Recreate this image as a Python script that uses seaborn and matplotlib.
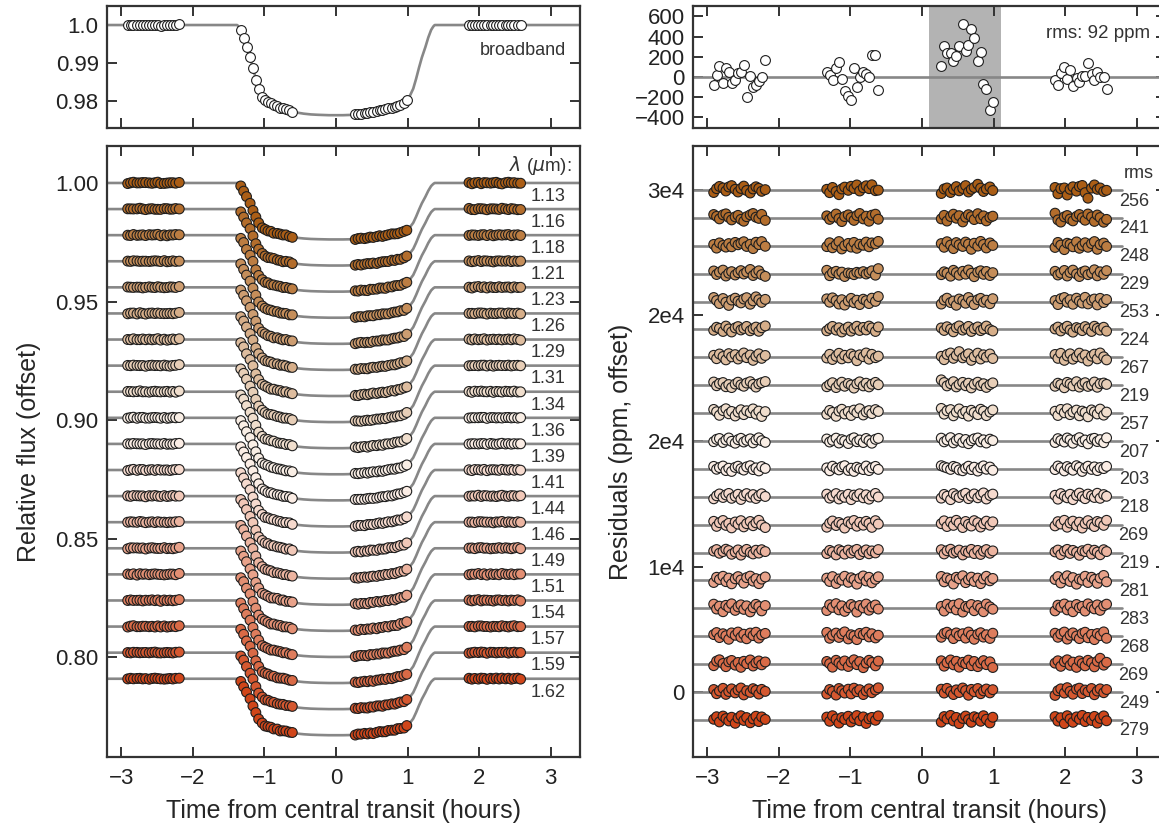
#!/usr/bin/env python3
# -*- coding: utf-8 -*-

"""
Spectroscopic transit light curves (left) and residuals (right).
"""

import matplotlib
matplotlib.use('Agg')
import matplotlib.pyplot as plt
import numpy as np
import pandas as pd
import seaborn as sns

# observation times, four HST orbits (hours from mid transit)
times = [-2.91, -2.87, -2.83, -2.78, -2.74, -2.70, -2.66, -2.61, -2.57,
         -2.53, -2.49, -2.45, -2.40, -2.36, -2.32, -2.28, -2.24, -2.19,
         -1.33, -1.29, -1.25, -1.20, -1.16, -1.12, -1.08, -1.03, -0.99,
         -0.95, -0.91, -0.87, -0.82, -0.78, -0.74, -0.70, -0.65, -0.61,
         0.27, 0.31, 0.35, 0.40, 0.44, 0.48, 0.52, 0.57, 0.61,
         0.65, 0.69, 0.73, 0.78, 0.82, 0.86, 0.90, 0.95, 0.99,
         1.86, 1.90, 1.94, 1.99, 2.03, 2.07, 2.11, 2.16, 2.20,
         2.24, 2.28, 2.32, 2.37, 2.41, 2.45, 2.49, 2.54, 2.58]

# broadband (white light) flux
bb_flux = [0.9999, 1.0000, 1.0001, 0.9999, 1.0001, 1.0000, 0.9999, 1.0000, 1.0000,
           1.0000, 1.0001, 0.9998, 1.0000, 0.9999, 0.9999, 1.0000, 1.0000, 1.0002,
           0.9987, 0.9967, 0.9941, 0.9915, 0.9887, 0.9856, 0.9830, 0.9811, 0.9802,
           0.9797, 0.9793, 0.9789, 0.9786, 0.9782, 0.9780, 0.9778, 0.9775, 0.9771,
           0.9764, 0.9765, 0.9766, 0.9767, 0.9768, 0.9770, 0.9771, 0.9773, 0.9775,
           0.9776, 0.9778, 0.9780, 0.9782, 0.9784, 0.9787, 0.9790, 0.9794, 0.9801,
           1.0000, 0.9999, 1.0000, 1.0001, 1.0000, 1.0001, 0.9999, 1.0000, 0.9999,
           1.0000, 1.0000, 1.0001, 1.0000, 1.0000, 1.0000, 1.0000, 1.0000, 0.9999]

# broadband residuals (ppm)
bb_resid = [-83, 23, 107, -60, 90, 50, -60, -33, 40, 47, 117, -203, 13, -100, -80, -37, 3, 173,
            47, 17, -30, 87, 150, -17, -143, -190, -230, 93, -97, 0, 47, 33, -3, 217, 217, -127,
            113, 303, 233, 237, 160, 203, 303, 520, 260, 317, 480, 390, 160, 250, -73, -120, -323, -247,
            -33, -83, 37, 103, -17, 70, -90, -13, -53, 10, 7, 137, 30, -33, 47, 0, -3, -120]

# transit model curve
model_t = [-3.40, -1.38, -1.36, -1.33, -1.29, -1.25, -1.20, -1.16, -1.12, -1.08,
           -1.03, -0.99, -0.95, -0.91, -0.85, -0.75, -0.65, -0.55, -0.45, -0.35,
           -0.25, -0.10, 0.00, 0.10, 0.25, 0.35, 0.45, 0.55, 0.65, 0.75,
           0.85, 0.91, 0.95, 0.99, 1.03, 1.08, 1.12, 1.16, 1.20, 1.25,
           1.29, 1.33, 1.36, 1.38, 3.50]
model_f = [1.0000, 1.0000, 0.9996, 0.9987, 0.9967, 0.9942, 0.9914, 0.9887, 0.9858, 0.9832,
           0.9812, 0.9803, 0.9798, 0.9794, 0.9789, 0.9782, 0.9774, 0.9769, 0.9766, 0.9764,
           0.9763, 0.9762, 0.9762, 0.9762, 0.9763, 0.9764, 0.9766, 0.9769, 0.9774, 0.9782,
           0.9789, 0.9794, 0.9798, 0.9803, 0.9812, 0.9832, 0.9858, 0.9887, 0.9914, 0.9942,
           0.9967, 0.9987, 0.9996, 1.0000, 1.0000]

wavelengths = ['1.13', '1.16', '1.18', '1.21', '1.23', '1.26', '1.29', '1.31', '1.34', '1.36',
               '1.39', '1.41', '1.44', '1.46', '1.49', '1.51', '1.54', '1.57', '1.59', '1.62']
rms_ppm = [256, 241, 248, 229, 253, 224, 267, 219, 257, 207,
           203, 218, 269, 219, 281, 283, 268, 269, 249, 279]

# spectroscopic residuals (ppm), one row per channel
ch_resid = [
    [-150, 80, 210, 120, -60, 180, 260, 40, -120, 90, 230, -30, -180, 60, 190, 100, -80, 20,
     40, -160, 150, -90, -280, 60, 170, -20, 220, 90, 300, -60, 130, 250, 80, 310, -40, -10,
     -210, 60, 120, -150, 30, 200, -50, 90, 260, -120, 40, 150, 340, 110, -90, 60, 180, -30,
     150, -230, 80, 120, -300, 40, 190, -70, 210, 270, -160, -490, 110, 300, 40, 120, -90, -20],
    [200, 90, -60, 180, 240, 30, -120, 60, 150, -90, -200, 70, 180, 260, 40, -30, 210, -150,
     120, -90, 50, 230, -40, -220, 80, 180, 20, -150, 140, 260, -60, 100, -200, 160, 220, -80,
     -60, 150, -190, 80, 220, -20, 130, -240, 40, 190, 70, -100, 250, -50, 120, -180, 30, 100,
     280, -120, -250, 60, 140, -70, -180, 90, 200, 10, -140, 230, 60, -210, 170, 20, -260, -90],
    [80, -140, 170, 20, -80, 130, -60, 200, 60, 150, 240, -40, 90, -170, 210, 70, 250, -30,
     -50, 180, -120, 60, 250, -190, 10, 140, -80, 200, -150, 90, 30, 220, -60, 170, 110, 260,
     130, -90, 240, 40, -170, 190, 60, -40, 220, 100, -210, 150, -20, 260, 80, -130, 170, 20,
     -100, 200, 40, -230, 150, 90, -60, 230, -150, 20, 180, -90, 130, 250, -210, 70, 160, -40],
    [160, -50, 90, 210, -140, 30, 120, -80, 60, 180, -20, 100, 250, -110, 40, 170, -60, -160,
     200, -120, 60, 140, -30, 90, -170, 40, 10, -60, 80, 30, 120, -20, 70, 170, -90, 300,
     -60, 110, 30, -150, 200, 60, -90, 140, -30, 220, 20, -180, 90, 170, -40, 130, -110, 60,
     140, -80, 30, 190, -140, 70, 210, -20, -170, 90, 160, -60, 40, 230, -130, 110, -40, 180],
    [240, 60, -120, 180, -40, -230, 90, 200, 20, -80, 150, 230, -160, 40, 280, 110, -50, 130,
     160, -40, 220, 60, -150, 110, -210, 30, 190, -70, 80, -180, 140, 50, -120, 200, 10, 300,
     -150, 90, 200, -60, 30, -220, 150, 60, -100, 240, 20, -180, 110, 190, -40, 80, -130, 170,
     60, -180, 170, 240, -40, 110, -160, 200, 30, -90, 250, -140, 80, 150, -200, 190, -60, 120],
    [-50, 130, 60, -120, 200, 30, -150, 90, 170, -30, 60, 180, -80, 40, 140, -110, 100, 210,
     -80, 60, 180, -40, 100, -150, 20, 140, -100, 60, 190, -60, 120, -30, 200, 90, -120, 150,
     90, -60, 160, 20, -140, 110, 210, -40, 60, 180, -120, 50, 150, -70, 30, 200, -10, -90,
     30, 140, -90, 80, 190, -30, -160, 110, 50, -70, 170, 30, -120, 190, 60, -40, 130, -100],
    [120, -80, 200, 50, -150, 220, 30, 160, -100, 80, 260, -20, 140, -180, 60, 210, -60, 110,
     -40, 180, -130, 60, 240, -90, 120, -30, 200, 80, -200, 150, 40, 260, -110, 180, -20, 70,
     60, -140, 170, 260, -60, 120, 340, -30, 90, 210, -180, 40, 250, -100, 150, 20, 200, -70,
     170, -60, 240, -180, 80, 210, -110, 40, 250, -30, 140, -220, 70, 190, -90, 260, 30, -150],
    [190, -30, 100, 160, -90, 40, -140, 70, 180, 20, -60, 130, 210, 50, -110, 80, 150, 220,
     -90, 40, 150, -140, 60, 180, -60, 100, 10, -170, 90, 200, -40, 120, -100, 60, 170, 30,
     320, 160, -40, 90, 210, -100, 50, 170, -30, 120, -160, 60, 180, -20, 90, -130, 40, 140,
     -60, 120, 40, -150, 170, 80, -40, 210, -110, 60, 150, -70, 20, 190, -120, 90, 130, 50],
    [220, 80, -130, 150, 260, -40, 100, -170, 60, 200, -90, 140, 30, 250, -60, 120, -200, 90,
     -70, 160, 40, -190, 120, 230, -50, 90, -140, 180, 30, 260, -110, 70, 150, -30, 210, 100,
     280, -60, 140, 210, -160, 60, 250, -30, 100, -180, 170, 40, -90, 230, 120, -150, 60, 190,
     110, -140, 220, 20, 260, -90, 60, 180, -160, 120, 40, -220, 190, 80, -50, 240, -120, 60],
    [-40, 100, 150, -90, 60, 180, -20, -130, 80, 160, -60, 40, 130, -110, 70, 190, 20, -80,
     120, -60, 40, 170, -120, 80, 10, -150, 110, 190, -40, 60, -90, 150, 30, -130, 100, 160,
     170, -50, 60, 200, -110, 40, 150, -80, 90, -160, 20, 130, 180, -50, 70, -120, 110, 30,
     -90, 140, 30, -60, 180, 70, -130, 100, 200, -40, 60, -170, 120, 160, -30, 80, -100, 190],
    [150, -20, 80, 170, -100, 40, -150, 90, 160, 10, -70, 120, 190, -40, 60, -120, 140, 30,
     60, -110, 160, 30, -60, 130, 190, -90, 40, -150, 100, 20, -40, 170, -100, 60, 150, -30,
     190, 120, 60, -30, 150, 90, -60, -110, 40, 160, -40, 100, -130, 70, 180, -20, 110, -80,
     -40, 170, 60, -120, 140, 30, -80, 190, 90, -150, 50, 160, -30, 120, -100, 80, 20, 150],
    [-120, 60, 170, -40, 110, 200, -90, 30, 150, -160, 80, 190, -20, 130, -100, 60, 180, 20,
     160, -80, 40, 190, -130, 70, -30, 150, -170, 100, 20, 180, -60, 120, -140, 50, 200, -10,
     -80, 140, 30, -170, 190, 60, -40, 120, 210, -110, 40, 170, -60, 100, 230, -130, 80, 160,
     90, -140, 190, 40, -60, 150, -170, 80, 220, 10, -110, 160, 60, -40, 210, -90, 130, 30],
    [200, -100, 120, 250, -40, 80, -190, 160, 30, 240, -130, 60, 190, -60, 110, 260, -20, -170,
     -150, 90, 220, -50, 130, 30, -200, 170, 60, 250, -90, 140, -30, 200, 80, -160, 240, 40,
     60, 230, -110, 150, -40, 260, 100, -170, 190, 20, -80, 240, 120, -140, 60, 210, -30, 170,
     -70, 180, 40, 260, -150, 100, 210, -60, 150, -200, 70, 240, 10, -110, 190, 120, -40, 260],
    [90, 180, -40, 60, 200, 120, -100, 30, 160, -150, 70, 190, 10, -80, 140, -30, 170, 60,
     -60, 130, 40, -140, 170, 80, -90, 150, -30, 110, 190, -120, 50, 160, -70, 100, -20, 180,
     170, -80, 110, 200, -30, 60, 150, -140, 90, 20, 190, -60, 130, -110, 80, 180, -40, 100,
     40, 150, -120, 90, 190, -50, 130, 20, -160, 110, 60, 200, -90, 140, 30, -130, 170, 60],
    [-120, 190, 60, 250, -70, 140, -200, 100, 230, 30, -160, 170, 260, -40, 110, -190, 80, 210,
     140, -60, 230, -180, 90, 20, 250, -110, 160, 60, -220, 130, 270, -30, 190, -140, 70, 220,
     240, -80, 150, 60, -210, 190, 100, 280, -130, 50, 200, -60, 140, -190, 90, 250, -20, 120,
     60, 230, -150, 110, 280, -60, 170, -220, 80, 20, 250, -120, 190, 60, -170, 140, 300, -80],
    [250, -40, 130, -200, 180, 60, 270, -120, 90, 210, -60, 150, -210, 40, 240, 110, -150, 170,
     -130, 220, 60, 280, -90, 150, -180, 40, 230, 100, -220, 170, 30, 260, -110, 80, 200, -40,
     120, -160, 250, 30, 190, -90, 280, -220, 110, 60, 230, -140, 170, 20, -200, 260, 90, -50,
     -150, 190, 70, 260, -90, 140, -200, 230, 40, 120, -160, 270, 80, -30, 210, -120, 150, 250],
    [100, 220, -80, 150, 30, -180, 200, 60, 250, -60, 120, -150, 190, 40, 240, -110, 80, 170,
     230, -120, 60, 190, -70, 140, 260, -160, 90, 20, -200, 170, 100, 240, -40, 150, -100, 60,
     -60, 170, 240, 90, -140, 200, 30, 150, -110, 250, 60, -180, 120, 210, -50, 90, -130, 180,
     180, -60, 130, 250, -170, 60, 200, 10, -140, 170, 240, -90, 110, -200, 160, 40, 260, -120],
    [-90, 180, 260, 40, -150, 140, 220, -60, 100, -190, 170, 30, 250, -110, 80, 190, -40, 130,
     160, 30, -180, 230, 80, -60, 190, -140, 120, 260, -30, 150, -210, 60, 230, 100, -100, 180,
     200, -120, 90, 250, -40, 170, -180, 110, 30, 240, -90, 160, -150, 60, 210, -30, 140, -200,
     60, 200, -130, 150, 260, -70, 120, -190, 190, 40, -100, 230, 90, -160, 170, 350, -60, 110],
    [150, -100, 60, 220, -140, 30, 190, -50, 120, 240, -170, 80, -20, 200, 100, -120, 160, 40,
     -120, 150, 40, -180, 210, 80, -60, 170, -110, 230, 20, 140, -150, 60, 190, -40, 120, 250,
     170, -60, 220, 30, -150, 130, -30, 240, 90, -190, 160, 20, 210, -100, 70, 180, -50, 140,
     -200, 80, 190, -60, 260, 40, -130, 170, 230, -90, 120, 20, 210, -160, 60, 190, -40, 150],
    [40, 190, -120, 230, 80, -60, 160, -200, 110, 250, -30, 140, -170, 60, 220, -100, 180, 30,
     170, -80, 250, 60, -190, 140, 30, 220, -120, 90, 260, -50, 180, -210, 70, 150, -20, 240,
     -130, 200, 60, 270, -60, 150, -220, 90, 230, 20, -140, 190, 110, -80, 250, 40, -180, 160,
     200, -70, 130, -220, 250, 60, -140, 180, 40, 270, -100, 150, -30, 210, -190, 90, 240, -50],
]

flux_step = 0.011      # light curve offset between channels
resid_step = 30000 / 18  # residual offset between channels (ppm)

LINE_GREY = '#878787'
EDGE = '#1e1e1e'
TXT = '#333333'


def main():
    sns.set_style('ticks', {'xtick.direction': 'in', 'ytick.direction': 'in',
                            'axes.edgecolor': '#333333'})
    plt.rcParams['font.family'] = ['Liberation Sans', 'DejaVu Sans']
    plt.rcParams.update({'xtick.top': True, 'ytick.right': True,
                         'xtick.major.size': 7.5, 'ytick.major.size': 7.5,
                         'xtick.major.width': 1.4, 'ytick.major.width': 1.4,
                         'xtick.color': '#333333', 'ytick.color': '#333333',
                         'xtick.labelcolor': '#222222', 'ytick.labelcolor': '#222222',
                         'axes.linewidth': 1.6, 'xtick.labelsize': 16,
                         'ytick.labelsize': 16, 'axes.labelsize': 18,
                         'xtick.major.pad': 8, 'ytick.major.pad': 6})

    colors = sns.blend_palette(['#ab5e16', '#fdf6f0', '#d0461a'], n_colors=len(wavelengths))

    # long tables
    lc_rows, res_rows, mod_rows, hl_rows = [], [], [], []
    for i, wl in enumerate(wavelengths):
        for t, f, r in zip(times, bb_flux, ch_resid[i]):
            lc_rows.append((wl, t, f + r * 1e-6 - i * flux_step))
            res_rows.append((wl, t, r + (18 - i) * resid_step))
        for t, f in zip(model_t, model_f):
            mod_rows.append((wl, t, f - i * flux_step))
        for t in (-3.4, 2.8):
            hl_rows.append((wl, t, (18 - i) * resid_step))
    lc = pd.DataFrame(lc_rows, columns=['wave', 'time', 'flux'])
    res = pd.DataFrame(res_rows, columns=['wave', 'time', 'resid'])
    mod = pd.DataFrame(mod_rows, columns=['wave', 'time', 'flux'])
    hl = pd.DataFrame(hl_rows, columns=['wave', 'time', 'resid'])
    bb = pd.DataFrame({'time': times, 'flux': bb_flux, 'resid': bb_resid})
    bb_mod = pd.DataFrame({'time': model_t, 'flux': model_f})

    fig = plt.figure(figsize=(11.59, 8.27), dpi=100)
    ax_bb = fig.add_axes([0.0923, 0.8456, 0.4081, 0.1475])
    ax_br = fig.add_axes([0.5979, 0.8456, 0.4081, 0.1475])
    ax_lc = fig.add_axes([0.0923, 0.0846, 0.4081, 0.7389])
    ax_rs = fig.add_axes([0.5979, 0.0846, 0.4081, 0.7389])

    mk = dict(s=50, edgecolor=EDGE, linewidth=0.8, zorder=3, legend=False)
    xlim = (-3.2, 3.41)

    # broadband light curve
    sns.lineplot(data=bb_mod, x='time', y='flux', color=LINE_GREY, lw=1.9,
                 sort=False, ax=ax_bb)
    sns.scatterplot(data=bb, x='time', y='flux', color='white', ax=ax_bb, **mk)
    ax_bb.set_xlim(xlim)
    ax_bb.set_ylim(0.9729, 1.0051)
    ax_bb.set_yticks([0.98, 0.99, 1.0])
    ax_bb.set_yticklabels(['0.98', '0.99', '1.0'])
    ax_bb.text(3.21, 0.9932, 'broadband', ha='right', va='center', fontsize=13,
               color=TXT)

    # broadband residuals
    ax_br.axvspan(0.10, 1.11, color='#b3b3b3', lw=0, zorder=0)
    ax_br.axhline(0, color=LINE_GREY, lw=1.9, zorder=1)
    sns.scatterplot(data=bb, x='time', y='resid', color='white', ax=ax_br, **mk)
    ax_br.set_xlim(xlim)
    ax_br.set_ylim(-502, 706)
    ax_br.set_yticks([-400, -200, 0, 200, 400, 600])
    ax_br.text(3.19, 430, 'rms: 92 ppm', ha='right', va='center', fontsize=13.5,
               color=TXT)

    for ax in (ax_bb, ax_br):
        ax.set_xticks(np.arange(-3, 4))
        ax.set_xticklabels([])
        ax.set_xlabel('')
        ax.set_ylabel('')

    # spectroscopic light curves
    sns.lineplot(data=mod, x='time', y='flux', units='wave', estimator=None,
                 color=LINE_GREY, lw=1.9, sort=False, ax=ax_lc)
    sns.scatterplot(data=lc, x='time', y='flux', hue='wave', hue_order=wavelengths,
                    palette=colors, ax=ax_lc, **mk)
    ax_lc.set_xlim(xlim)
    ax_lc.set_ylim(0.758, 1.0156)
    ax_lc.set_yticks([0.80, 0.85, 0.90, 0.95, 1.00])
    ax_lc.text(3.29, 1.0072, r'$\lambda$ ($\mu$m):', ha='right', va='center',
               fontsize=13.5, color=TXT)
    for i, wl in enumerate(wavelengths):
        ax_lc.text(3.21, 1.0 - i * flux_step - 0.0056, wl, ha='right', va='center',
                   fontsize=13, color=TXT)
    ax_lc.set_ylabel('Relative flux (offset)', labelpad=10)

    # spectroscopic residuals
    sns.lineplot(data=hl, x='time', y='resid', units='wave', estimator=None,
                 color=LINE_GREY, lw=1.9, sort=False, ax=ax_rs)
    sns.scatterplot(data=res, x='time', y='resid', hue='wave', hue_order=wavelengths,
                    palette=colors, ax=ax_rs, **mk)
    ax_rs.set_xlim(xlim)
    ax_rs.set_ylim(-3884, 32630)
    ax_rs.set_yticks([0, 7500, 15000, 22500, 30000])
    ax_rs.set_yticklabels(['0', '1e4', '2e4', '2e4', '3e4'])
    ax_rs.text(3.24, 30000 + 1000, 'rms', ha='right', va='center', fontsize=13,
               color=TXT)
    for i, r in enumerate(rms_ppm):
        ax_rs.text(3.17, (18 - i) * resid_step - 660, str(r), ha='right', va='center',
                   fontsize=13, color=TXT)
    ax_rs.set_ylabel('Residuals (ppm, offset)', labelpad=10)

    for ax in (ax_lc, ax_rs):
        ax.set_xticks(np.arange(-3, 4))
        ax.set_xlabel('Time from central transit (hours)', labelpad=7)

    fig.savefig('out.png', dpi=100)


if __name__ == '__main__':
    main()
